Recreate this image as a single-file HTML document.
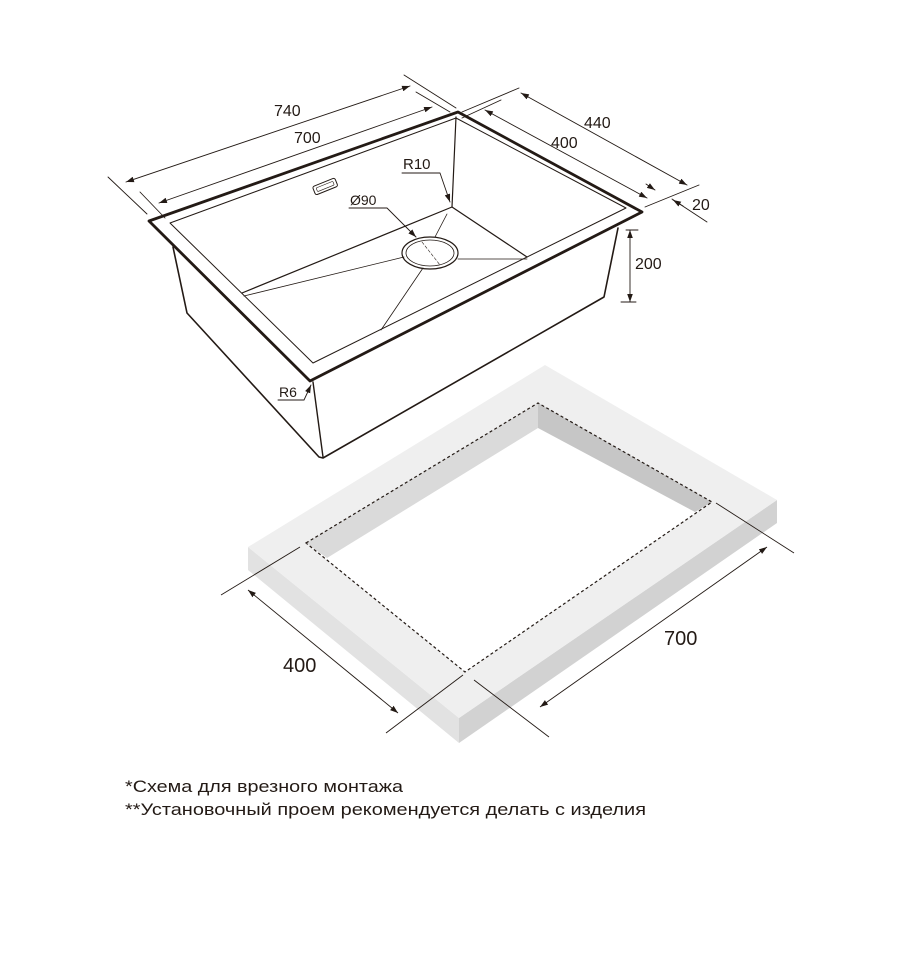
<!DOCTYPE html>
<html><head><meta charset="utf-8"><style>
html,body{margin:0;padding:0;background:#fff;}
svg{display:block;}
text{font-family:"Liberation Sans","DejaVu Sans",sans-serif;fill:#231a15;}
</style></head><body>
<svg width="902" height="960" viewBox="0 0 902 960" xmlns="http://www.w3.org/2000/svg">
<defs>
<marker id="a" viewBox="0 0 10 10" refX="10" refY="5" markerWidth="8" markerHeight="8" orient="auto-start-reverse" markerUnits="userSpaceOnUse"><path d="M0,1.5 L10,5 L0,8.5 z" fill="#231a15"/></marker>
</defs>
<g stroke="#231a15" fill="none" stroke-linejoin="round" stroke-linecap="round">
<polyline points="173,247 187,313 319,457 323,458 604,297 618,228" stroke-width="1.6"/>
<line x1="313" y1="382" x2="323" y2="457" stroke-width="1.4"/>
<line x1="456" y1="117" x2="452" y2="207" stroke-width="1.2"/>
<line x1="452" y1="207" x2="242" y2="293" stroke-width="1.2"/>
<line x1="452" y1="207" x2="527" y2="257" stroke-width="1.2"/>
<line x1="447" y1="214" x2="435" y2="237" stroke-width="0.8"/>
<line x1="404" y1="257" x2="244" y2="296" stroke-width="0.8"/>
<line x1="458" y1="259" x2="527" y2="259" stroke-width="0.8"/>
<line x1="423" y1="268" x2="381" y2="330" stroke-width="0.8"/>
<ellipse cx="430" cy="253" rx="28" ry="16" stroke-width="1.2"/>
<ellipse cx="430" cy="253" rx="24" ry="13" stroke-width="0.8"/>
<line x1="422" y1="242" x2="440" y2="265" stroke-width="0.6" stroke-dasharray="3,2"/>
<polygon points="149,221 458,112 642,212 310,381" stroke-width="2.8"/>
<polygon points="170,223 456,118 626,208 313,363" stroke-width="1"/>
<rect x="313" y="182" width="24" height="9" rx="2" transform="rotate(-22 325 186)" stroke-width="1"/>
<rect x="316" y="184.5" width="18" height="4" rx="1" transform="rotate(-22 325 186)" stroke-width="0.6"/>
<g stroke-width="0.9">
<line x1="108" y1="177" x2="147" y2="214"/><line x1="404" y1="75" x2="456" y2="108"/>
<line x1="126" y1="182" x2="410" y2="86" marker-start="url(#a)" marker-end="url(#a)"/>
<line x1="140" y1="192" x2="165" y2="218"/><line x1="416" y1="92" x2="450" y2="112"/>
<line x1="159" y1="203" x2="432" y2="107" marker-start="url(#a)" marker-end="url(#a)"/>
<line x1="462" y1="112" x2="519" y2="88"/><line x1="645" y1="207" x2="699" y2="185"/>
<line x1="521" y1="93" x2="687" y2="185" marker-start="url(#a)" marker-end="url(#a)"/>
<line x1="462" y1="118" x2="501" y2="100"/>
<line x1="485" y1="110" x2="647" y2="198" marker-start="url(#a)" marker-end="url(#a)"/>
<line x1="646" y1="184" x2="655" y2="190" marker-end="url(#a)"/>
<line x1="672" y1="199" x2="707" y2="222"/>
<line x1="683" y1="206" x2="673" y2="200" marker-end="url(#a)"/>
<line x1="626" y1="230" x2="638" y2="230"/><line x1="621" y1="302" x2="636" y2="302"/>
<line x1="630" y1="230" x2="630" y2="302" marker-start="url(#a)" marker-end="url(#a)"/>
<polyline points="402,173 440,173 450,202" marker-end="url(#a)"/>
<polyline points="349,208 387,208 416,237" marker-end="url(#a)"/>
<polyline points="278,400 304,400 311,385" marker-end="url(#a)"/>
</g>
</g>
<g font-size="16">
<text x="274" y="116">740</text>
<text x="294" y="143">700</text>
<text x="584" y="128">440</text>
<text x="551" y="148">400</text>
<text x="692" y="210">20</text>
<text x="635" y="269">200</text>
<text x="403" y="169" font-size="15">R10</text>
<text x="350" y="205" font-size="14">Ø90</text>
<text x="279" y="397" font-size="14">R6</text>
</g>
<polygon points="248,547 459,718 459,743 248,570" fill="#e2e2e2"/>
<polygon points="459,718 777,500 777,523 459,743" fill="#d2d2d2"/>
<polygon points="248,547 545,365 777,500 459,718" fill="#efefef"/>
<polygon points="306,543 538,403 712,502 465,672" fill="#fff"/>
<polygon points="306,543 538,403 538,428 327,558" fill="#dadada"/>
<polygon points="538,403 712,502 695,512 538,428" fill="#c6c6c6"/>
<polygon points="306,543 538,403 712,502 465,672" fill="none" stroke="#231a15" stroke-width="1.2" stroke-dasharray="3,2.5"/>
<g stroke="#231a15" stroke-width="0.9" fill="none">
<line x1="221" y1="595" x2="300" y2="547"/><line x1="386" y1="733" x2="463" y2="675"/>
<line x1="248" y1="590" x2="398" y2="713" marker-start="url(#a)" marker-end="url(#a)"/>
<line x1="474" y1="680" x2="549" y2="737"/><line x1="716" y1="503" x2="794" y2="553"/>
<line x1="540" y1="707" x2="767" y2="547" marker-start="url(#a)" marker-end="url(#a)"/>
</g>
<text x="283" y="672" font-size="20">400</text>
<text x="664" y="645" font-size="20">700</text>
<text x="125" y="792" font-size="17" textLength="278" lengthAdjust="spacingAndGlyphs">*Схема для врезного монтажа</text>
<text x="125" y="815" font-size="17" textLength="521" lengthAdjust="spacingAndGlyphs">**Установочный проем рекомендуется делать с изделия</text>
</svg>
</body></html>
